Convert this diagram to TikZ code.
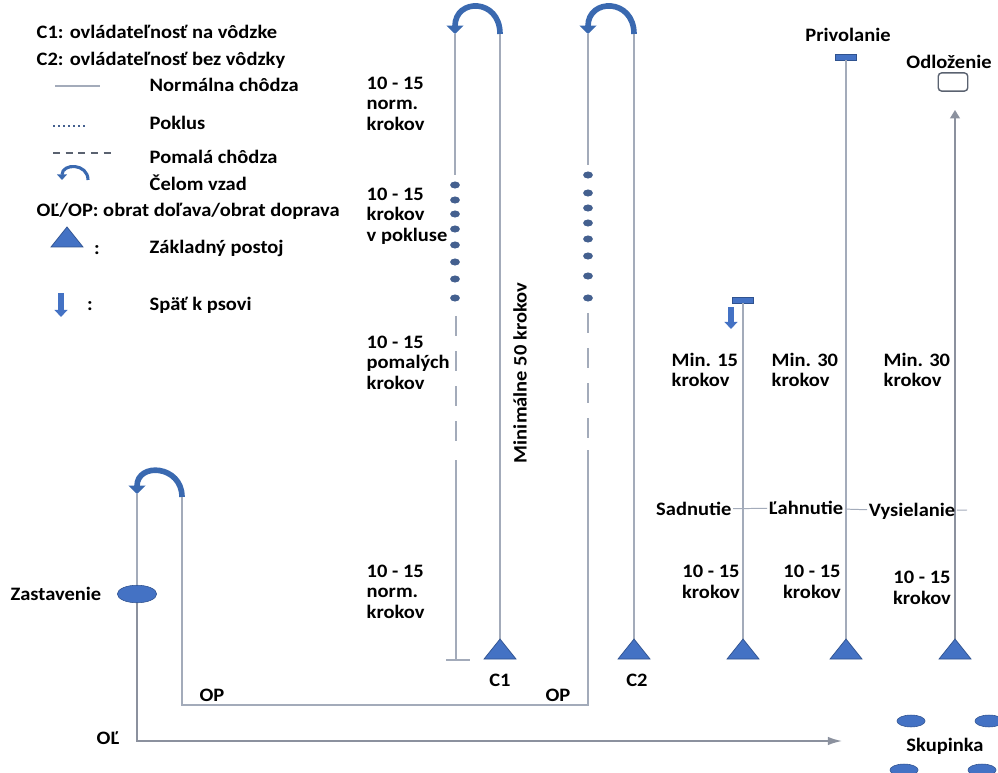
\documentclass[tikz,border=0pt]{standalone}
\usepackage{fontspec}
\setmainfont{Carlito}[FakeStretch=1.08]
\usetikzlibrary{arrows.meta, shapes.geometric, positioning}
\definecolor{track}{HTML}{A3ABBA}
\definecolor{turnblue}{HTML}{3A69B0}
\definecolor{shapeblue}{HTML}{4472C4}
\definecolor{shapeedge}{HTML}{2F528F}
\definecolor{trotblue}{HTML}{44608F}
\definecolor{boxgray}{HTML}{5A6270}

\begin{document}
\begin{tikzpicture}[x=0.025cm,y=-0.025cm,
 every node/.style={font=\fontsize{13.5}{14.6}\selectfont\bfseries, inner sep=1pt},
 txt/.style={align=left, anchor=north west},
 walk/.style={draw=track, line width=1.1pt},
 slowwalk/.style={walk, dash pattern=on 14pt off 11pt},
 trotdot/.style={ellipse, fill=trotblue, minimum width=7pt, minimum height=5pt, inner sep=0pt},
 turn/.style={draw=turnblue, line width=4pt, -{Triangle[width=12pt,length=6pt]}},
 stance/.style={fill=shapeblue, draw=shapeedge, line width=0.5pt},
 back/.style={draw=shapeblue, line width=4pt, -{Triangle[width=9pt,length=5pt]}},
 bar/.style={rectangle, fill=shapeblue, draw=shapeedge, minimum width=15pt, minimum height=4.5pt, inner sep=0pt},
 member/.style={ellipse, fill=shapeblue, draw=shapeedge, minimum width=20pt, minimum height=8.5pt, inner sep=0pt}]

  \useasboundingbox (0,0) rectangle (998,773);

  % legenda
  \node[anchor=west] (legc1) at (35,32) {C1: ovládateľnosť na vôdzke};
  \node[anchor=west] (legc2) at (35,60) {C2: ovládateľnosť bez vôdzky};
  \node[anchor=west] (legwalk) at (148,85) {Normálna chôdza};
  \node[anchor=west] (legtrot) at (148,123) {Poklus};
  \node[anchor=west] (legslow) at (148,157) {Pomalá chôdza};
  \node[anchor=west] (legturn) at (148,183) {Čelom vzad};
  \node[anchor=west] (legop) at (35,211) {OĽ/OP: obrat doľava/obrat doprava};
  \node[anchor=west] (legstance) at (148,248) {Základný postoj};
  \node[anchor=west] (legback) at (148,305) {Späť k psovi};
  \node (colon1) at (97,250) {:};
  \node (colon2) at (90,306) {:};

  \draw[walk] (55,86) -- (100,86);
  \draw[draw=trotblue, line width=1.3pt, dash pattern=on 1.4pt off 2.2pt] (53,126) -- (88,126);
  \draw[draw=boxgray, line width=0.8pt, dash pattern=on 5pt off 4pt] (53,153) -- (115,153);
  \draw[draw=turnblue, line width=2.2pt, -{Triangle[width=7pt,length=4pt]}]
    (88,180) .. controls +(0,-17) and +(0,-17) .. (62,180);
  \fill[stance] (67,227) -- ++(16,20) -- ++(-32,0) -- cycle;
  \draw[back] (61,293) -- (61,317);

  % C1
  \coordinate (c1l-top) at (455,34);
  \coordinate (c1r-top) at (500,34);
  \coordinate (c1) at (500,639);
  \draw[turn] (c1r-top) .. controls +(0,-36) and +(0,-36) .. (c1l-top);
  \draw[walk] (c1l-top) -- (455,175);
  \foreach \y [count=\i] in {185,200,214,229,245,262,279,298}
    \node[trotdot] (c1dot\i) at (455,\y) {};
  \draw[slowwalk] (456,316) -- (456,455);
  \draw[walk] (456,460) coordinate (c1l-norm) -- (456,660) coordinate (c1l-end);
  \draw[walk] ([xshift=-7pt]c1l-end) -- ([xshift=10pt]c1l-end);
  \draw[walk] (c1r-top) -- (c1);

  % C2
  \coordinate (c2l-top) at (588,34);
  \coordinate (c2r-top) at (634,34);
  \coordinate (c2) at (634,639);
  \draw[turn] (c2r-top) .. controls +(0,-36) and +(0,-36) .. (c2l-top);
  \draw[walk] (c2l-top) -- (588,165);
  \foreach \y [count=\i] in {175,193,208,223,239,256,276,298}
    \node[trotdot] (c2dot\i) at (588,\y) {};
  \draw[slowwalk] (588,313) -- (588,445);
  \draw[walk] (c2r-top) -- (c2);

  % uvod: OP a OL
  \coordinate (ltl) at (137,494);
  \coordinate (ltr) at (182,497);
  \coordinate (op-c2) at (588,705);
  \coordinate (ol) at (137,741);
  \coordinate (grp) at (842,741);
  \draw[turn] (ltr) .. controls +(0,-32) and +(0,-32) .. (ltl);
  \draw[walk] (588,450) -- (op-c2) -| (ltr);
  \node[ellipse, fill=shapeblue, draw=shapeedge, minimum width=28pt, minimum height=12.5pt, inner sep=0pt] (stop) at (137,594) {};
  \node[left=10pt of stop] (stoplbl) {Zastavenie};
  \draw[walk] (ltl) -- (stop);
  \draw[walk, draw=track!85!black, -{Latex[length=10pt,width=6pt]}] (stop) |- (grp);

  % prave stlpce
  \node[bar] (sadbar) at (743,300) {};
  \node[bar] (prbar) at (846,57) {};
  \node[draw=boxgray, line width=1pt, rounded corners=2.5pt, minimum width=21pt, minimum height=13pt, inner sep=0pt] (odl) at (953,82) {};
  \coordinate (sad) at (743,639);
  \coordinate (lah) at (846,639);
  \coordinate (vys) at (955,639);
  \coordinate (odl-tip) at (955,110);
  \draw[walk] (sadbar) -- (sad);
  \draw[walk] (prbar) -- (lah);
  \draw[walk, draw=track!85!black, -{Triangle[width=7pt,length=6pt]}] (vys) -- (odl-tip);
  \draw[back] (731,307) -- (731,329);

  \foreach \p in {c1,c2,sad,lah,vys}
    \fill[stance] (\p) -- ++(16,20) -- ++(-32,0) -- cycle;

  % texty
  \node[txt] (n1) at (365,75) {10 - 15\\norm.\\krokov};
  \node[txt] (n2) at (365,186) {10 - 15\\krokov\\v pokluse};
  \node[txt] (n3) at (365,334) {10 - 15\\pomalých\\krokov};
  \node[txt] (n4) at (365,563) {10 - 15\\norm.\\krokov};
  \node[rotate=90] (min50) at (520,373) {Minimálne 50 krokov};
  \node (c1lbl) at (500,680) {C1};
  \node (c2lbl) at (637,680) {C2};
  \node (op2) at (558,695) {OP};
  \node (op1) at (212,695) {OP};
  \node (ollbl) at (108,738) {OĽ};

  \node (prlbl) at (848,35) {Privolanie};
  \node (odllbl) at (949,62) {Odloženie};
  \node[align=left, anchor=west] (m1) at (670,370) {Min. 15\\krokov};
  \node[align=left, anchor=west] (m2) at (770,370) {Min. 30\\krokov};
  \node[align=left, anchor=west] (m3) at (882,370) {Min. 30\\krokov};
  \node[anchor=east] (sadn) at (733,509) {Sadnutie};
  \node (lahn) at (806,508) {Ľahnutie};
  \node (vysn) at (912,511) {Vysielanie};
  \coordinate (hend) at (967,510);
  \draw[draw=track, line width=0.7pt] (sadn) -- (lahn) -- (vysn) -- (hend);
  \node[align=center] (k1) at (711,582) {10 - 15\\krokov};
  \node[align=center] (k2) at (812,582) {10 - 15\\krokov};
  \node[align=center] (k3) at (922,588) {10 - 15\\krokov};

  % skupinka
  \foreach \x/\y [count=\i] in {911/721, 989/721, 904/770, 982/770}
    \node[member] (grp\i) at (\x,\y) {};
  \node (grplbl) at (945,746) {Skupinka};

\end{tikzpicture}
\end{document}
